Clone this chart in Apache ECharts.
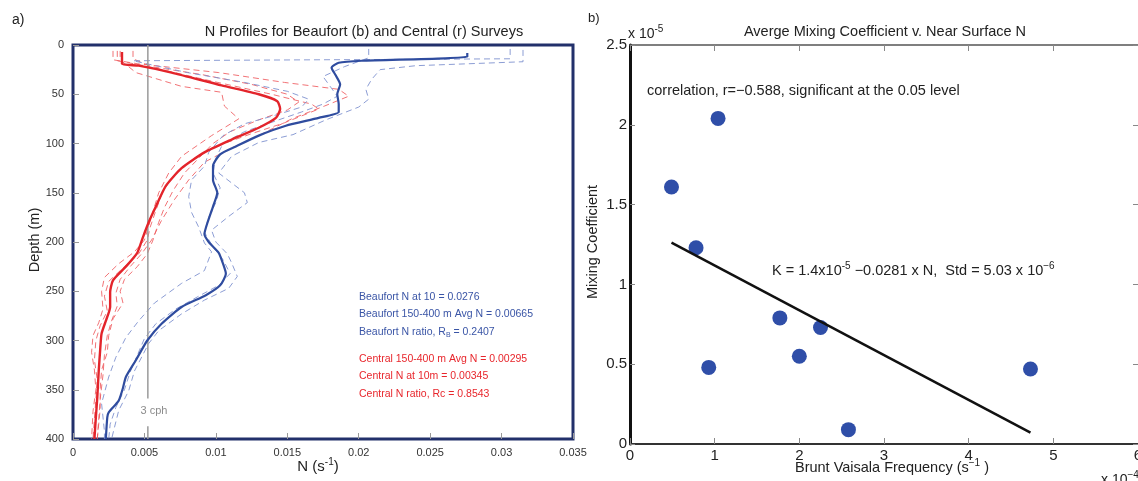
<!DOCTYPE html>
<html>
<head>
<meta charset="utf-8">
<script src="https://cdn.jsdelivr.net/npm/echarts@6/dist/echarts.min.js"></script>
<style>
  html, body { margin: 0; padding: 0; background: #fff; }
  #chart { width: 1138px; height: 481px; }
</style>
</head>
<body>
<div id="chart"></div>
<script>
// ---- Panel a: N profiles, each as [N (s^-1), depth (m)] ----
const beaufortMean = [
  [0.0276, 8], [0.0276, 12], [0.0202, 16], [0.0186, 18], [0.0181, 23], [0.0184, 31],
  [0.0187, 40], [0.0185, 50], [0.0186, 60], [0.0186, 68], [0.0172, 74], [0.0149, 82],
  [0.0130, 92], [0.0114, 103], [0.0103, 111], [0.0098, 123], [0.0098, 137], [0.0101, 150],
  [0.0098, 164], [0.0094, 181], [0.0092, 192], [0.0095, 200], [0.0102, 211], [0.0105, 222],
  [0.0107, 232], [0.0103, 244], [0.0093, 254], [0.0076, 266], [0.0062, 283], [0.0052, 300],
  [0.0044, 320], [0.0037, 337], [0.0035, 348], [0.0032, 361], [0.0025, 373], [0.0024, 378],
  [0.0023, 400]
];
const centralMean = [
  [0.00343, 7], [0.00343, 19], [0.0046, 21], [0.0069, 28], [0.0104, 41], [0.0130, 50],
  [0.0143, 57], [0.0145, 65], [0.0142, 74], [0.0130, 84], [0.0111, 96], [0.0092, 109],
  [0.0076, 125], [0.0065, 143], [0.0058, 164], [0.0053, 180], [0.0049, 195], [0.0045, 211],
  [0.0037, 225], [0.0028, 239], [0.0026, 251], [0.0026, 266], [0.0023, 280], [0.0020, 293],
  [0.0019, 310], [0.0018, 331], [0.0017, 358], [0.0016, 378], [0.0015, 400]
];
const beaufortCasts = [
  [[0.0315, 5], [0.0315, 17], [0.0240, 21], [0.0215, 25], [0.0209, 35], [0.0205, 45],
   [0.0207, 55], [0.0200, 63], [0.0177, 76], [0.0154, 91], [0.0130, 99], [0.0111, 113],
   [0.0102, 130], [0.0120, 150], [0.0122, 160], [0.0109, 174], [0.0097, 188], [0.0100, 200],
   [0.0108, 212], [0.0111, 221], [0.0115, 235], [0.0109, 247], [0.0092, 259], [0.0076, 273],
   [0.0060, 290], [0.0053, 303], [0.0043, 331], [0.0039, 351], [0.0032, 371], [0.0027, 400]],
  [[0.0306, 4], [0.0306, 14], [0.0042, 16], [0.0080, 28], [0.0120, 38], [0.0150, 47],
   [0.0165, 55], [0.0160, 63], [0.0140, 72], [0.0120, 80], [0.0105, 92], [0.0095, 109],
   [0.0092, 123], [0.0083, 137], [0.0081, 154], [0.0083, 170], [0.0088, 185], [0.0092, 201],
   [0.0097, 210], [0.0092, 229], [0.0076, 242], [0.0057, 262], [0.0046, 280], [0.0037, 297],
   [0.0030, 317], [0.0025, 337], [0.0020, 364], [0.0022, 392], [0.0022, 400]],
  [[0.0207, 4], [0.0207, 13], [0.0190, 22], [0.0175, 32], [0.0180, 42], [0.0185, 52],
   [0.0175, 60], [0.0160, 68], [0.0140, 78], [0.0120, 88], [0.0105, 100], [0.0100, 115],
   [0.0098, 130], [0.0103, 145], [0.0100, 160], [0.0095, 175], [0.0092, 190], [0.0098, 205],
   [0.0105, 218], [0.0110, 232], [0.0102, 244], [0.0088, 255], [0.0072, 268], [0.0058, 283],
   [0.0050, 298], [0.0045, 315], [0.0040, 332], [0.0036, 350], [0.0030, 368], [0.0026, 385],
   [0.0025, 400]]
];
const centralCasts = [
  [[0.0028, 6], [0.0028, 15], [0.0045, 19], [0.0102, 28], [0.0148, 38], [0.0186, 45],
   [0.0193, 52], [0.0176, 62], [0.0153, 75], [0.0130, 92], [0.0109, 106], [0.0092, 119],
   [0.0081, 137], [0.0071, 157], [0.0062, 178], [0.0055, 198], [0.0048, 212], [0.0040, 225],
   [0.0033, 238], [0.0030, 252], [0.0031, 265], [0.0027, 280], [0.0024, 295], [0.0022, 315],
   [0.0021, 335], [0.0019, 360], [0.0018, 380], [0.0017, 400]],
  [[0.0031, 6], [0.0031, 16], [0.0050, 21], [0.0092, 35], [0.0139, 50], [0.0167, 60],
   [0.0172, 65], [0.0160, 72], [0.0148, 79], [0.0125, 90], [0.0100, 103], [0.0085, 115],
   [0.0072, 130], [0.0063, 148], [0.0058, 168], [0.0054, 185], [0.0052, 198], [0.0046, 212],
   [0.0036, 225], [0.0025, 240], [0.0022, 255], [0.0024, 270], [0.0019, 285], [0.0016, 300],
   [0.0015, 320], [0.0017, 340], [0.0016, 360], [0.0015, 380], [0.0014, 400]],
  [[0.0033, 6], [0.0033, 15], [0.0044, 28], [0.0076, 42], [0.0104, 48], [0.0106, 62],
   [0.0116, 75], [0.0097, 92], [0.0076, 113], [0.0067, 130], [0.0060, 150], [0.0055, 174],
   [0.0050, 198], [0.0043, 210], [0.0032, 222], [0.0022, 236], [0.0020, 250], [0.0021, 268],
   [0.0018, 282], [0.0014, 295], [0.0013, 312], [0.0015, 330], [0.0016, 350], [0.0014, 372],
   [0.0013, 400]],
  [[0.0042, 6], [0.0042, 14], [0.0055, 22], [0.0090, 30], [0.0125, 40], [0.0150, 50],
   [0.0158, 58], [0.0150, 66], [0.0130, 76], [0.0110, 88], [0.0098, 100], [0.0088, 115],
   [0.0078, 130], [0.0070, 148], [0.0064, 165], [0.0060, 180], [0.0056, 198], [0.0052, 212],
   [0.0045, 225], [0.0036, 238], [0.0033, 250], [0.0035, 262], [0.0028, 278], [0.0025, 295],
   [0.0024, 312], [0.0020, 330], [0.0019, 350], [0.0019, 370], [0.0018, 385], [0.0017, 400]]
];
// 3 cph buoyancy-frequency reference line (rad/s), broken around its label
const cphN = 0.00524;
const cphUpper = [[cphN, 0], [cphN, 359]];
const cphLower = [[cphN, 387], [cphN, 400]];

const statsBeaufort = [
  'Beaufort N at 10 = 0.0276',
  'Beaufort 150-400 m Avg N = 0.00665',
  'Beaufort N ratio, R{sub|B} = 0.2407'
];
const statsCentral = [
  'Central 150-400 m Avg N = 0.00295',
  'Central N at 10m = 0.00345',
  'Central N ratio, Rc = 0.8543'
];

// ---- Panel b: mixing coefficient (x1e-5) vs near-surface N (x1e-4 s^-1) ----
const surfaceN = [1.04, 0.49, 0.78, 1.77, 2.25, 2.00, 0.93, 4.73, 2.58];
const mixingK  = [2.04, 1.61, 1.23, 0.79, 0.73, 0.55, 0.48, 0.47, 0.09];
// Fit K = 1.4x10^-5 - 0.0281 N, drawn over the span of the data
const fitIntercept = 1.4e-5;
const fitSlope = -0.0281;
const fitRange = [0.49, 4.73];
const fitLine = fitRange.map(n => [n, (fitIntercept + fitSlope * n * 1e-4) / 1e-5]);

const FONT = 'Liberation Sans, Arial, sans-serif';
const RED = '#e3242b';
const BLUE = '#2f4c9f';

const series = [];
centralCasts.forEach(c => series.push({
  type: 'line', xAxisIndex: 0, yAxisIndex: 0, data: c, showSymbol: false, silent: true,
  lineStyle: { color: '#ef5b5e', width: 1, type: [6, 4], opacity: 0.85 }
}));
beaufortCasts.forEach(c => series.push({
  type: 'line', xAxisIndex: 0, yAxisIndex: 0, data: c, showSymbol: false, silent: true,
  lineStyle: { color: '#7f92cf', width: 1, type: [6, 4], opacity: 0.9 }
}));
[cphUpper, cphLower].forEach(seg => series.push({
  type: 'line', xAxisIndex: 0, yAxisIndex: 0, data: seg, showSymbol: false, silent: true,
  lineStyle: { color: '#9a9a9a', width: 1.5 }
}));
series.push({
  type: 'line', xAxisIndex: 0, yAxisIndex: 0, data: beaufortMean, showSymbol: false,
  smooth: 0.2, lineStyle: { color: BLUE, width: 2.2 }
});
series.push({
  type: 'line', xAxisIndex: 0, yAxisIndex: 0, data: centralMean, showSymbol: false,
  smooth: 0.2, lineStyle: { color: RED, width: 2.4 }
});
series.push({
  type: 'line', xAxisIndex: 1, yAxisIndex: 1, data: fitLine, showSymbol: false,
  lineStyle: { color: '#111', width: 2.5 }
});
series.push({
  type: 'scatter', xAxisIndex: 1, yAxisIndex: 1,
  data: surfaceN.map((n, i) => [n, mixingK[i]]),
  symbol: 'circle', symbolSize: 15, itemStyle: { color: '#2f4ea8', opacity: 1 }
});

function txt(text, x, y, opts) {
  return {
    type: 'text', x: x, y: y, rotation: (opts && opts.rotation) || 0,
    style: Object.assign({
      text: text, font: '14.5px ' + FONT, fill: '#222',
      align: 'left', verticalAlign: 'middle',
      textAlign: 'left', textVerticalAlign: 'middle'
    }, opts && opts.style)
  };
}
const supRich = {
  sup: { fontSize: 10, fontFamily: FONT, verticalAlign: 'top', lineHeight: 20 }
};

const graphics = [
  txt('a)', 12, 20, { style: { font: '14px ' + FONT } }),
  txt('N Profiles for Beaufort (b) and Central (r) Surveys', 364, 32,
      { style: { align: 'center', textAlign: 'center' } }),
  txt('Depth (m)', 35, 240, { rotation: Math.PI / 2,
      style: { align: 'center', textAlign: 'center', font: '14.5px ' + FONT } }),
  txt('N (s{sup|-1})', 318, 467, {
      style: { align: 'center', textAlign: 'center', font: '15px ' + FONT, rich: supRich } }),
  txt('3 cph', 154, 411, { style: { align: 'center', textAlign: 'center', font: '11px ' + FONT, fill: '#8c8c8c' } }),
  txt('b)', 588, 18, { style: { font: '13px ' + FONT } }),
  txt('Averge Mixing Coefficient v. Near Surface N', 885, 32,
      { style: { align: 'center', textAlign: 'center' } }),
  txt('x 10{sup|-5}', 628, 34, { style: { font: '14px ' + FONT, rich: supRich } }),
  txt('Mixing Coefficient', 593, 242, { rotation: Math.PI / 2,
      style: { align: 'center', textAlign: 'center', font: '14.5px ' + FONT } }),
  txt('Brunt Vaisala Frequency (s{sup|\u22121} )', 892, 468, {
      style: { align: 'center', textAlign: 'center', rich: supRich } }),
  txt('x 10{sup|\u22124}', 1101, 480, { style: { font: '14px ' + FONT, rich: supRich } }),
  txt('correlation, r=\u22120.588, significant at the 0.05 level', 647, 91),
  txt('K = 1.4x10{sup|-5} \u22120.0281 x N,  Std = 5.03 x 10{sup|\u22126}', 772, 271,
      { style: { rich: supRich } })
];
statsBeaufort.forEach((s, i) => graphics.push(txt(s, 359, 297 + i * 17.5, {
  style: { font: '10.5px ' + FONT, fill: '#3a55a6',
           rich: { sub: { fontSize: 7, fontFamily: FONT, fill: '#3a55a6', verticalAlign: 'bottom', lineHeight: 13 } } }
})));
statsCentral.forEach((s, i) => graphics.push(txt(s, 359, 359 + i * 17.5, {
  style: { font: '10.5px ' + FONT, fill: '#e8262c' }
})));

const chart = echarts.init(document.getElementById('chart'), null, { renderer: 'canvas' });
chart.setOption({
  animation: false,
  backgroundColor: '#fff',
  grid: [
    { left: 73, top: 45, width: 500, height: 394, show: true, outerBoundsMode: 'none',
      borderColor: '#22306b', borderWidth: 3, backgroundColor: 'transparent' },
    { left: 630, top: 45, width: 508, height: 399, outerBoundsMode: 'none' }
  ],
  xAxis: [
    { gridIndex: 0, type: 'value', position: 'bottom', min: 0, max: 0.035, interval: 0.005,
      axisLine: { show: false, onZero: false }, splitLine: { show: false },
      axisTick: { show: true, inside: true, length: 6, lineStyle: { color: '#999' } },
      axisLabel: { fontSize: 11, color: '#333', margin: 8, fontFamily: FONT } },
    { gridIndex: 1, type: 'value', min: 0, max: 6, interval: 1,
      axisLine: { onZero: false, lineStyle: { color: '#333', width: 2 } }, splitLine: { show: false },
      axisTick: { inside: true, length: 6, lineStyle: { color: '#888' } },
      axisLabel: { fontSize: 15, color: '#222', margin: 4, fontFamily: FONT } },
    { gridIndex: 1, type: 'value', position: 'top', min: 0, max: 6, interval: 1,
      axisLine: { onZero: false, lineStyle: { color: '#555', width: 1.5 } }, splitLine: { show: false },
      axisTick: { inside: true, length: 6, lineStyle: { color: '#888' } },
      axisLabel: { show: false } }
  ],
  yAxis: [
    { gridIndex: 0, type: 'value', position: 'left', inverse: true, min: 0, max: 400, interval: 50,
      axisLine: { show: false, onZero: false }, splitLine: { show: false },
      axisTick: { show: true, inside: true, length: 6, lineStyle: { color: '#999' } },
      axisLabel: { fontSize: 11, color: '#333', margin: 9, fontFamily: FONT } },
    { gridIndex: 1, type: 'value', min: 0, max: 2.5, interval: 0.5,
      axisLine: { onZero: false, lineStyle: { color: '#111', width: 3 } }, splitLine: { show: false },
      axisTick: { inside: true, length: 5, lineStyle: { color: '#888' } },
      axisLabel: { fontSize: 15, color: '#222', margin: 3, fontFamily: FONT } },
    { gridIndex: 1, type: 'value', position: 'right', min: 0, max: 2.5, interval: 0.5,
      axisLine: { show: false, onZero: false }, splitLine: { show: false },
      axisTick: { show: true, inside: true, length: 5, lineStyle: { color: '#888' } },
      axisLabel: { show: false } }
  ],
  series: series,
  graphic: graphics
});
</script>
</body>
</html>
